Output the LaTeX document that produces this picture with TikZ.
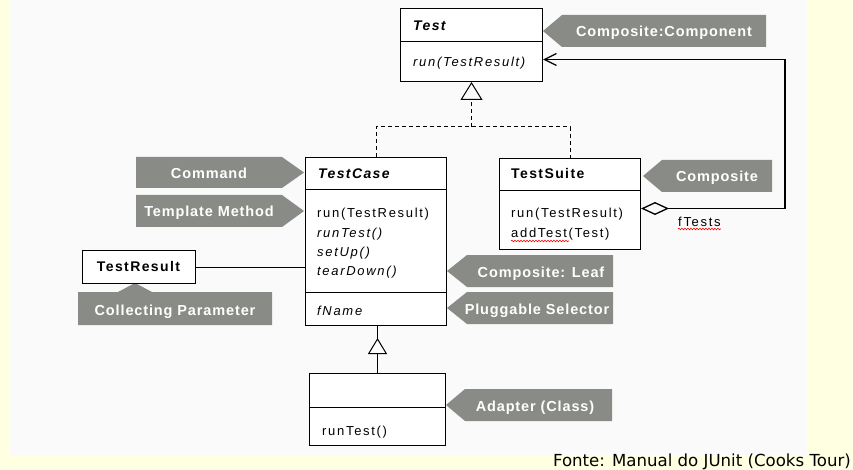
\documentclass[tikz,border=0pt]{standalone}
\usepackage{fontspec}
\setmainfont{Liberation Sans}
\newfontfamily\umlfont[LetterSpace=13]{Liberation Sans}
\newfontfamily\umlboldfont[LetterSpace=10]{Liberation Sans}
\newfontfamily\calloutfont[LetterSpace=6]{Liberation Sans}
\newfontfamily\capfont{DejaVu Sans}
\usetikzlibrary{arrows.meta,decorations.pathmorphing}
\definecolor{calloutgray}{RGB}{137,139,135}
\definecolor{bgyellow}{RGB}{255,255,226}
\definecolor{bgwhite}{RGB}{250,250,250}
\newcommand{\fUml}{\umlfont\fontsize{13}{15}\selectfont}
\newcommand{\fTitle}{\umlboldfont\bfseries\fontsize{14}{16}\selectfont}
\newcommand{\fCall}{\calloutfont\bfseries\fontsize{14.5}{16}\selectfont}
\newcommand{\fCap}{\capfont\fontsize{16.6}{18}\selectfont}
\begin{document}
\begin{tikzpicture}[x=1pt,y=-1pt,
  box/.style={draw=black, line width=1pt, fill=white, inner sep=0pt, anchor=north west},
  sepline/.style={line width=1pt},
  lbl/.style={anchor=base west, inner sep=0pt, font=\fUml},
  ttl/.style={anchor=base west, inner sep=0pt, font=\fTitle},
  callout/.style={fill=calloutgray},
  calltxt/.style={anchor=base, inner sep=0pt, text=white, font=\fCall},
  conn/.style={line width=1pt},
  dashconn/.style={line width=1pt, dash pattern=on 4pt off 3pt},
  spell/.style={draw=red, line width=0.6pt, decorate, decoration={snake, amplitude=0.8pt, segment length=3pt}}
]
\useasboundingbox (0,0) rectangle (853,470);
\fill[bgyellow] (0,0) rectangle (853,470);
\fill[bgwhite] (10,0) rectangle (807,455);

% ---- callouts ----
\fill[callout] (543,31) -- (562,15) -- (766,15) -- (766,47) -- (562,47) -- cycle;
\node[calltxt] (cc) at (664,37) {Composite:Component};
\fill[callout] (643,176) -- (662,160) -- (772,160) -- (772,192) -- (662,192) -- cycle;
\node[calltxt] (comp) at (717,182) {Composite};
\fill[callout] (447,271) -- (467,255) -- (613,255) -- (613,287) -- (467,287) -- cycle;
\node[calltxt] (leaf) at (541,277) {Composite: Leaf};
\fill[callout] (447,308) -- (467,292) -- (613,292) -- (613,324) -- (467,324) -- cycle;
\node[calltxt] (plug) at (537,314) {Pluggable Selector};
\fill[callout] (446,405) -- (465,389) -- (612,389) -- (612,421) -- (465,421) -- cycle;
\node[calltxt] (adapt) at (535,411) {Adapter (Class)};
\fill[callout] (136,157) -- (282,157) -- (304,172.5) -- (282,188) -- (136,188) -- cycle;
\node[calltxt] (cmd) at (209,179) {Command};
\fill[callout] (136,195) -- (282,195) -- (304,211) -- (282,227) -- (136,227) -- cycle;
\node[calltxt] (tmpl) at (209,217) {Template Method};
\fill[callout] (78,292) -- (118,292) -- (135,283) -- (152,292) -- (272,292) -- (272,325) -- (78,325) -- cycle;
\node[calltxt] (collect) at (175,315) {Collecting Parameter};

% ---- classes ----
\node[box, minimum width=142pt, minimum height=73pt] (test) at (400,8) {};
\draw[sepline] (test.west |- 0,42) -- (test.east |- 0,42);
\node[ttl] (testname) at (413,31) {\itshape Test};
\node[lbl] (testrun) at (413,67) {\itshape run(TestResult)};

\node[box, minimum width=141pt, minimum height=168pt] (tc) at (305,157) {};
\draw[sepline] (tc.west |- 0,190) -- (tc.east |- 0,190);
\draw[sepline] (tc.west |- 0,292) -- (tc.east |- 0,292);
\node[ttl] (tcname) at (318,179) {\itshape TestCase};
\node[lbl] (tcrun) at (317,218) {run(TestResult)};
\node[lbl] (tcruntest) at (317,237) {\itshape runTest()};
\node[lbl] (tcsetup) at (317,256) {\itshape setUp()};
\node[lbl] (tcteardown) at (317,275) {\itshape tearDown()};
\node[lbl] (tcfname) at (317,315) {\itshape fName};

\node[box, minimum width=141pt, minimum height=91pt] (ts) at (499,158) {};
\draw[sepline] (ts.west |- 0,191) -- (ts.east |- 0,191);
\node[ttl] (tsname) at (511,179) {TestSuite};
\node[lbl] (tsrun) at (511,218) {run(TestResult)};
\node[lbl] (tsadd) at (511,237) {addTest(Test)};
\draw[spell] (511,241) -- (569,241);

\node[box, minimum width=113pt, minimum height=33pt] (tr) at (82,250) {};
\node[anchor=base, inner sep=0pt, font=\fTitle] (trname) at (138.5,271) {TestResult};

\node[box, minimum width=136pt, minimum height=72pt] (sub) at (309,373) {};
\draw[sepline] (sub.west |- 0,407) -- (sub.east |- 0,407);
\node[lbl] (subrun) at (322,435) {runTest()};

% ---- connectors ----
\draw[conn] (tr.east) -- (tr.east -| tc.west);

\coordinate (j1) at ([yshift=30pt]tc.north);
\draw[dashconn] (tc.north) -- (j1) -| (ts.north);
\draw[dashconn, -{Triangle[open, length=18pt, width=22pt]}] (j1 -| test.south) -- (test.south);

\draw[conn] (sub.north) -- (sub.north |- tc.south);
\draw[conn, -{Triangle[fill=white, length=16pt, width=19pt]}, shorten >=12pt] (sub.north) -- (sub.north |- tc.south);

\draw[line width=1.3pt, {Diamond[open, length=28pt, width=13pt]}-{Straight Barb[length=12pt, width=12pt]}]
  ([yshift=-4.5pt]ts.east) -- ++(144,0) |- ([yshift=-14.5pt]test.east);
\node[lbl] (ftests) at (678,226) {fTests};
\draw[spell] ([yshift=-3pt]ftests.base west) -- ([yshift=-3pt]ftests.base east);

% ---- caption ----
\node[anchor=base east, inner sep=0pt, font=\fCap] (src) at (851,466) {Fonte: Manual do JUnit (Cooks Tour)};
\end{tikzpicture}
\end{document}
